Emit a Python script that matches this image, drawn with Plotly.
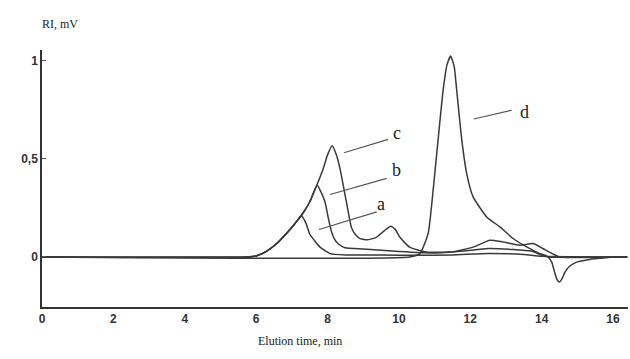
import plotly.graph_objects as go

# ---- data ----
t_a = [0, 5.8, 6.0, 6.3, 6.57, 6.85, 7.0, 7.13, 7.27, 7.4, 7.5, 7.65, 7.79, 7.95, 8.07, 8.5, 9.5, 10.5, 11.5, 12.5, 13.5, 14.0, 16.4]
v_a = [0, 0, 0.005, 0.03, 0.067, 0.12, 0.15, 0.18, 0.21, 0.17, 0.117, 0.08, 0.05, 0.03, 0.017, 0.01, 0.01, 0.008, 0.01, 0.018, 0.012, 0.003, 0]

t_b = [0, 5.8, 6.0, 6.3, 6.57, 6.85, 7.13, 7.27, 7.5, 7.71, 7.82, 7.93, 8.02, 8.11, 8.2, 8.3, 8.49, 9.0, 10.0, 11.0, 11.8, 12.5, 13.2, 13.7, 14.0, 14.2, 16.4]
v_b = [0, 0, 0.005, 0.03, 0.067, 0.12, 0.18, 0.21, 0.28, 0.367, 0.33, 0.28, 0.2, 0.13, 0.09, 0.067, 0.047, 0.04, 0.028, 0.02, 0.03, 0.043, 0.038, 0.03, 0.01, 0, 0]

t_c = [0, 5.7, 6.0, 6.3, 6.57, 6.85, 7.13, 7.5, 7.88, 8.0, 8.13, 8.25, 8.35, 8.53, 8.67, 8.77, 8.9, 9.1, 9.37, 9.6, 9.77, 9.9, 10.03, 10.3, 10.78, 11.5, 12.08, 12.55, 12.9, 13.4, 13.76, 14.03, 14.3, 14.5, 16.4]
v_c = [0, 0, 0.005, 0.03, 0.067, 0.12, 0.18, 0.28, 0.45, 0.52, 0.567, 0.52, 0.45, 0.28, 0.15, 0.117, 0.095, 0.087, 0.1, 0.135, 0.157, 0.14, 0.1, 0.05, 0.025, 0.026, 0.05, 0.085, 0.077, 0.06, 0.068, 0.043, 0.017, 0, 0]

t_d = [0, 10.3, 10.59, 10.82, 10.96, 11.1, 11.24, 11.35, 11.45, 11.55, 11.62, 11.76, 11.9, 12.08, 12.46, 12.83, 13.2, 13.58, 13.95, 14.15, 14.28, 14.36, 14.43, 14.5, 14.57, 14.66, 14.8, 15.0, 15.3, 15.63, 16.0, 16.4]
v_d = [0, 0, 0.017, 0.12, 0.34, 0.6, 0.85, 0.98, 1.024, 0.97, 0.85, 0.6, 0.425, 0.306, 0.204, 0.153, 0.094, 0.051, 0.017, 0.004, -0.025, -0.075, -0.115, -0.128, -0.112, -0.075, -0.045, -0.025, -0.014, -0.007, 0, 0]

x_ticks = [0, 2, 4, 6, 8, 10, 12, 14, 16]
y_ticks = [0, 0.5, 1]
y_ticktext = ["0", "0,5", "1"]

labels = ["a", "b", "c", "d"]
label_pos = [(9.50, 0.269), (9.92, 0.442), (9.94, 0.63), (13.53, 0.74)]
leader_from = [(7.76, 0.14), (8.07, 0.318), (8.46, 0.531), (12.10, 0.703)]
leader_to = [(9.38, 0.23), (9.66, 0.40), (9.70, 0.599), (13.16, 0.748)]

LC = "#3a3a3a"
fig = go.Figure()
for t, v in [(t_a, v_a), (t_b, v_b), (t_c, v_c), (t_d, v_d)]:
    fig.add_trace(go.Scatter(x=t, y=v, mode="lines",
                             line=dict(color=LC, width=1.5, shape="spline", smoothing=0.5),
                             showlegend=False, hoverinfo="skip"))

for (x0, y0), (x1, y1) in zip(leader_from, leader_to):
    fig.add_shape(type="line", x0=x0, y0=y0, x1=x1, y1=y1,
                  line=dict(color="#555", width=1.2), xref="x", yref="y")

for lab, (x, y) in zip(labels, label_pos):
    fig.add_annotation(x=x, y=y, text=lab, showarrow=False, xref="x", yref="y",
                       font=dict(family="Liberation Serif", size=18, color="#222"))

W, H = 630, 359
pl, pr, pt, pb = 42, 2, 50, 52
pw, ph = W - pl - pr, H - pt - pb
def px(x): return (x - pl) / pw
def py(y): return (H - pb - y) / ph

fig.update_layout(
    width=W, height=H,
    margin=dict(l=pl, r=pr, t=pt, b=pb),
    paper_bgcolor="white", plot_bgcolor="white",
    font=dict(family="Liberation Sans", color="#333"),
)

fig.add_annotation(x=px(40), y=py(15), xref="paper", yref="paper", text="RI, mV",
                   showarrow=False, font=dict(family="Liberation Serif", size=12, color="#222"))
fig.add_annotation(x=px(300), y=py(350), xref="paper", yref="paper", text="Elution time, min",
                   showarrow=False, font=dict(family="Liberation Serif", size=12, color="#222"))

fig.update_xaxes(range=[0, 16.42], tickvals=x_ticks, ticktext=[f"<b>{v}</b>" for v in x_ticks],
                 showline=True, linecolor="#333", linewidth=1.5, showgrid=False, zeroline=False,
                 ticks="", tickfont=dict(family="Liberation Sans", size=12, color="#333"))
fig.update_yaxes(range=[-0.2551, 1.0546], tickvals=y_ticks, ticktext=[f"<b>{v}</b>" for v in y_ticktext],
                 showline=True, linecolor="#333", linewidth=1.5, showgrid=False, zeroline=False,
                 ticks="inside", ticklen=4, tickcolor="#555",
                 tickfont=dict(family="Liberation Sans", size=12, color="#333"))

fig.write_html("out.html")
